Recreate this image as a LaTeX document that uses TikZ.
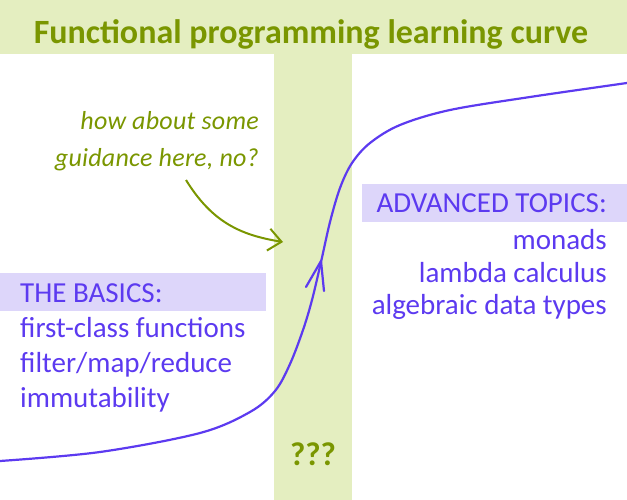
\documentclass[tikz,border=0pt]{standalone}
\usepackage{fontspec}
\setmainfont{Carlito}
\usetikzlibrary{arrows.meta}
\definecolor{bandgreen}{RGB}{228,238,192}
\definecolor{titlegreen}{RGB}{122,150,0}
\definecolor{lav}{RGB}{221,214,250}
\definecolor{purp}{RGB}{92,58,240}
\tikzset{
  bodytext/.style={inner sep=0pt, text=purp, font=\fontsize{29}{35}\selectfont},
  notetext/.style={inner sep=0pt, text=titlegreen, font=\itshape\fontsize{26}{30}\selectfont\addfontfeatures{LetterSpace=1}},
  curveline/.style={draw=purp, line width=2.2pt, line cap=round, line join=round},
  notearrow/.style={draw=titlegreen, line width=2pt, -{Straight Barb[length=13pt,width=22pt,line width=2pt]}}
}
\begin{document}
\begin{tikzpicture}[x=1pt,y=-1pt]
\useasboundingbox (0,0) rectangle (627,500);
\fill[bandgreen] (0,0) rectangle (627,54);
\fill[bandgreen] (274,54) rectangle (352,500);
\fill[lav] (0,273) rectangle (266,311);
\fill[lav] (362,184) rectangle (627,222);
\node[anchor=base, inner sep=0pt, text=titlegreen, font=\bfseries\fontsize{34}{40}\selectfont] (title) at (311,44) {Functional programming learning curve};
% learning curve
\draw[curveline] plot[smooth, tension=0.55] coordinates {(0,461) (100,452) (200,433) (250,412) (275,391) (290,364) (303,330) (312,300) (321,262) (330,222) (340,188) (352,163) (370,143) (400,125) (450,110) (530,97) (627,83)};
\draw[curveline] (306,287) -- (321,261) -- (324,291);
% basics
\node[bodytext, anchor=base west] (b0) at (20,302) {THE BASICS:};
\node[bodytext, anchor=base west] (b1) at (20,337) {first-class functions};
\node[bodytext, anchor=base west] (b2) at (20,372) {filter/map/reduce};
\node[bodytext, anchor=base west] (b3) at (20,407) {immutability};
% advanced
\node[bodytext, anchor=base east] (a0) at (607,213) {ADVANCED TOPICS:};
\node[bodytext, anchor=base east] (a1) at (607,249) {monads};
\node[bodytext, anchor=base east] (a2) at (607,282) {lambda calculus};
\node[bodytext, anchor=base east] (a3) at (607,314) {algebraic data types};
% note
\node[notetext, anchor=base east] (n1) at (259,130) {how about some};
\node[notetext, anchor=base east] (n2) at (259,167) {guidance here, no?};
\coordinate (nstart) at (186,180);
\coordinate (ntip) at (283,242);
\draw[notearrow] (nstart) .. controls (212,222) and (240,235) .. (ntip);
% ???
\node[anchor=base, inner sep=0pt, text=titlegreen, font=\bfseries\fontsize{33}{40}\selectfont] (qq) at (313,465) {???};
\end{tikzpicture}
\end{document}
